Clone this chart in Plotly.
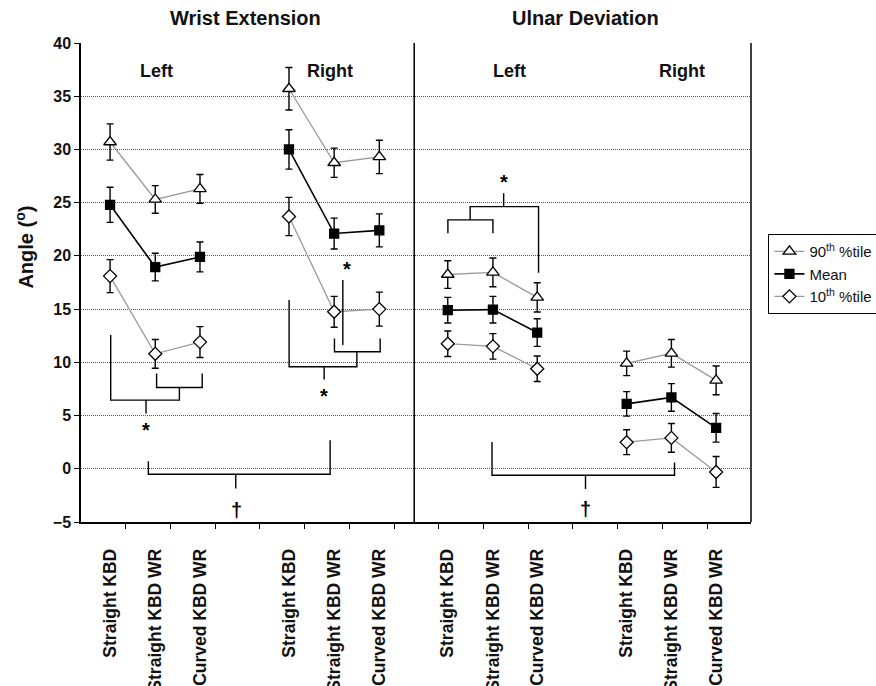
import plotly.graph_objects as go

# ---------------- data ----------------
conditions = ["Straight KBD", "Straight KBD WR", "Curved KBD WR"]
panels = ["Wrist Extension", "Ulnar Deviation"]
sides = ["Left", "Right"]

# order: WE-Left (3), WE-Right (3), UD-Left (3), UD-Right (3)
p90 = [30.7, 25.3, 26.3, 35.7, 28.75, 29.3, 18.25, 18.45, 16.1, 9.9, 10.85, 8.3]
p90_err = [1.7, 1.3, 1.35, 2.0, 1.37, 1.57, 1.3, 1.35, 1.37, 1.15, 1.3, 1.35]
mean = [24.8, 18.95, 19.9, 30.0, 22.1, 22.4, 14.9, 14.95, 12.8, 6.1, 6.7, 3.85]
mean_err = [1.65, 1.3, 1.4, 1.85, 1.45, 1.55, 1.2, 1.25, 1.3, 1.15, 1.3, 1.35]
p10 = [18.1, 10.8, 11.9, 23.7, 14.75, 15.0, 11.75, 11.5, 9.4, 2.5, 2.9, -0.3]
p10_err = [1.55, 1.35, 1.45, 1.8, 1.45, 1.6, 1.2, 1.2, 1.2, 1.17, 1.35, 1.45]

tick_labels = conditions * 4
y_ticks = list(range(-5, 41, 5))

# category positions on the x axis (slot units)
x_pos = [0.65, 1.66, 2.66, 4.65, 5.66, 6.67, 8.2, 9.21, 10.2, 12.2, 13.2, 14.2]
slot_ticks = list(range(1, 15))
divider_x = 7.45
x_range = [0, 14.98]

FONT = "Liberation Sans, Arial, sans-serif"

fig = go.Figure()

series = [
    ("90<sup>th</sup> %tile", p90, p90_err, "triangle-up", "white", "#9a9a9a", 11),
    ("Mean", mean, mean_err, "square", "black", "black", 9),
    ("10<sup>th</sup> %tile", p10, p10_err, "diamond", "white", "#9a9a9a", 10),
]

for name, vals, errs, sym, fill, lcol, msize in series:
    for g in range(4):
        sl = slice(g * 3, g * 3 + 3)
        fig.add_trace(go.Scatter(
            x=x_pos[sl], y=vals[sl],
            mode="lines+markers",
            name=name,
            legendgroup=name,
            showlegend=(g == 0),
            line=dict(color=lcol, width=1.6 if name == "Mean" else 1.3),
            marker=dict(symbol=sym, size=msize, color=fill,
                        line=dict(color="black", width=1.3)),
            error_y=dict(type="data", array=errs[sl], color="black",
                         thickness=1.4, width=3.5),
        ))

# ---------------- significance brackets ----------------
brackets = [
    # Wrist extension, left
    [(0.664, 12.56), (0.664, 6.45), (2.20, 6.45), (2.20, 7.64)],
    [(1.69, 8.96), (1.69, 7.64), (2.71, 7.64), (2.71, 8.96)],
    [(1.454, 6.45), (1.454, 5.19)],
    # Wrist extension, right
    [(4.653, 15.85), (4.653, 9.58), (6.168, 9.58), (6.168, 10.99)],
    [(5.667, 12.25), (5.667, 10.99), (6.689, 10.99), (6.689, 12.25)],
    [(5.436, 9.58), (5.436, 8.39)],
    [(5.854, 17.73), (5.854, 11.62)],
    # Wrist extension, left vs right
    [(1.506, 0.70), (1.506, -0.52), (5.57, -0.52), (5.57, 2.68)],
    [(3.46, -0.52), (3.46, -1.86)],
    # Ulnar deviation, left
    [(8.203, 22.13), (8.203, 23.38), (9.21, 23.38), (9.21, 22.13)],
    [(8.70, 23.38), (8.70, 24.63), (10.23, 24.63), (10.23, 18.42)],
    [(9.45, 24.63), (9.45, 25.89)],
    # Ulnar deviation, left vs right
    [(9.19, 2.52), (9.19, -0.61), (13.27, -0.61), (13.27, 0.58)],
    [(11.28, -0.61), (11.28, -1.9)],
]
shapes = []
for pts in brackets:
    path = "M " + " L ".join(f"{x},{y}" for x, y in pts)
    shapes.append(dict(type="path", path=path, xref="x", yref="y",
                       line=dict(color="black", width=1.4)))
# panel divider and right frame
shapes.append(dict(type="line", xref="x", yref="y", x0=divider_x, x1=divider_x,
                   y0=-5, y1=40, line=dict(color="black", width=1.5)))
shapes.append(dict(type="line", xref="paper", yref="y", x0=1, x1=1,
                   y0=-5, y1=40, line=dict(color="black", width=1.5)))

marks = [
    ("*", 1.454, 3.6), ("*", 5.436, 6.85), ("*", 5.958, 18.75), ("*", 9.45, 26.9),
    ("\u2020", 3.47, -3.9), ("\u2020", 11.28, -3.75),
]
annotations = []
for t, x, y in marks:
    annotations.append(dict(text=t, x=x, y=y, xref="x", yref="y", showarrow=False,
                            xanchor="center", yanchor="middle",
                            font=dict(family=FONT, size=20, color="black", weight="bold")))

side_pos = [(1.69, "Left"), (5.57, "Right"), (9.57, "Left"), (13.44, "Right")]
for x, t in side_pos:
    annotations.append(dict(text=t, x=x, y=37.33, xref="x", yref="y", showarrow=False,
                            xanchor="center", yanchor="middle",
                            font=dict(family=FONT, size=18, color="#111", weight="bold")))

for x, t in zip([3.67, 11.28], panels):
    annotations.append(dict(text=t, x=x, y=1.052, xref="x", yref="paper", showarrow=False,
                            xanchor="center", yanchor="middle",
                            font=dict(family=FONT, size=20, color="#111", weight="bold")))

annotations.append(dict(text="Angle (<sup>o</sup>)", x=-0.085, y=0.573, xref="paper",
                        yref="paper", showarrow=False, textangle=-90,
                        xanchor="center", yanchor="middle",
                        font=dict(family=FONT, size=20, color="#111", weight="bold")))

fig.update_layout(
    width=876, height=686,
    margin=dict(l=81, r=125, t=43, b=164, autoexpand=False),
    plot_bgcolor="white", paper_bgcolor="white",
    font=dict(family=FONT, color="black"),
    shapes=shapes,
    annotations=annotations,
    legend=dict(x=1.026, y=0.601, xanchor="left", yanchor="top",
                bordercolor="black", borderwidth=1, bgcolor="white",
                font=dict(family=FONT, size=15, color="#111"),
                tracegroupgap=0),
    xaxis=dict(range=x_range, tickmode="array", tickvals=x_pos, ticktext=tick_labels,
               tickangle=-90, ticks="", showgrid=False, zeroline=False,
               showline=True, linecolor="black", linewidth=1.5,
               ticklabelstandoff=18,
               tickfont=dict(family=FONT, size=17.5, color="#111", weight="bold"),
               minor=dict(tickmode="array", tickvals=slot_ticks, ticks="outside",
                          ticklen=5, tickcolor="black", tickwidth=1.2, showgrid=False),
               automargin=False),
    yaxis=dict(range=[-5, 40], tickmode="array", tickvals=y_ticks,
               ticks="outside", ticklen=5, tickcolor="black", tickwidth=1.2,
               showgrid=True, gridcolor="#5a5a5a", griddash="1px,1px", gridwidth=1,
               zeroline=False, showline=True, linecolor="black", linewidth=1.5,
               tickfont=dict(family=FONT, size=16, color="#111", weight="bold"),
               automargin=False),
)

fig.write_html(
    "out.html",
    config={"displayModeBar": False},
    post_script="document.body.style.margin='0';document.body.style.overflow='hidden';"
                "document.documentElement.style.overflow='hidden';",
)
